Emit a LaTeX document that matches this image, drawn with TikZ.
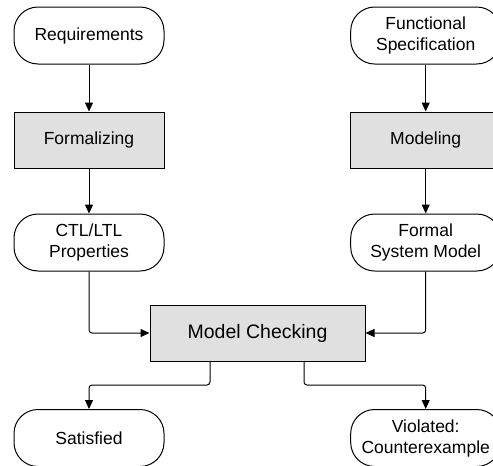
\documentclass[tikz,border=0pt]{standalone}
\usepackage{fontspec}
\setmainfont{Liberation Sans}
\usetikzlibrary{arrows.meta}
\definecolor{boxgray}{HTML}{E0E0E0}
\begin{document}
\begin{tikzpicture}[x=1pt,y=-1pt,
  term/.style={draw, line width=1pt, rounded corners=24pt, minimum width=150pt, minimum height=57pt, align=center, inner sep=0pt, font=\fontsize{17.5}{21}\selectfont},
  proc/.style={draw, line width=1pt, fill=boxgray, minimum width=150pt, minimum height=56pt, align=center, inner sep=0pt, font=\fontsize{17.5}{21}\selectfont},
  arr/.style={line width=1pt, -{Triangle[length=9pt,width=8pt]}, rounded corners=3pt}]
\useasboundingbox (0,0) rectangle (493,466);
\clip (0,0) rectangle (493,466);
\node[term] (req) at (89,35.5) {Requirements};
\node[proc] (form) at (89,140) {Formalizing};
\node[term] (ctl) at (89,242.5) {CTL/LTL\\Properties};
\node[term] (func) at (425.7,35.5) {Functional\\Specification};
\node[proc] (model) at (425.7,140) {Modeling};
\node[term] (fsm) at (425.7,242.5) {Formal\\System Model};
\node[proc, minimum width=215pt, font=\fontsize{19.5}{23}\selectfont] (mc) at (257.5,333) {Model Checking};
\node[term] (sat) at (89,438) {Satisfied};
\node[term] (vio) at (425.7,438) {Violated:\\Counterexample};
\draw[arr] (req) -- (form);
\draw[arr] (form) -- (ctl);
\draw[arr] (func) -- (model);
\draw[arr] (model) -- (fsm);
\draw[arr] (ctl.south) |- (mc.west);
\draw[arr] (fsm.south) |- (mc.east);
\draw[arr] ([xshift=-47.5pt]mc.south) -- ++(0,23.5) -| (sat.north);
\draw[arr] ([xshift=46.5pt]mc.south) -- ++(0,23.5) -| (vio.north);
\end{tikzpicture}
\end{document}
